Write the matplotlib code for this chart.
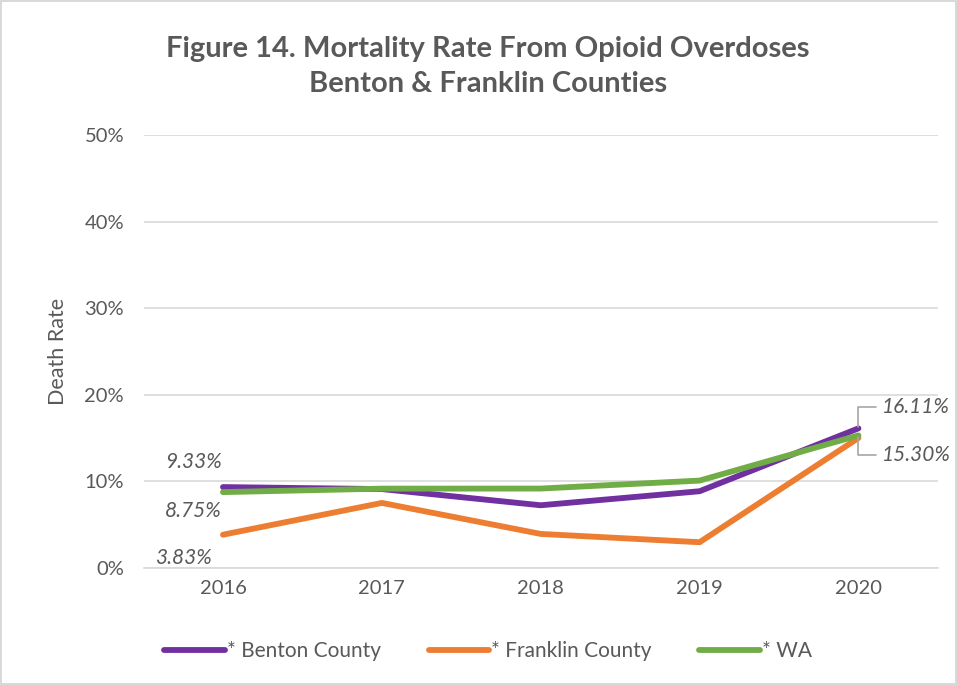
import matplotlib.pyplot as plt
from matplotlib.ticker import PercentFormatter

# Data
years = ['2016', '2017', '2018', '2019', '2020']
benton = [9.33, 9.1, 7.23, 8.85, 16.11]
franklin = [3.83, 7.5, 3.92, 2.96, 15.0]
wa = [8.75, 9.15, 9.16, 10.08, 15.30]
series_names = ['* Benton County', '* Franklin County', '* WA']
series_colors = ['#7030A0', '#ED7D31', '#70AD47']

gray = '#595959'
plt.rcParams['font.family'] = ['Lato', 'DejaVu Sans']

fig = plt.figure(figsize=(9.57, 6.85), dpi=100)
fig.patch.set_edgecolor('#D9D9D9')
fig.patch.set_linewidth(1.5)
ax = fig.add_axes([0.15, 0.171, 0.83, 0.632])

x = list(range(len(years)))
for vals, name, col in zip([benton, franklin, wa], series_names, series_colors):
    ax.plot(x, vals, color=col, lw=4.2, label=name, solid_capstyle='round')

ax.set_xlim(-0.5, len(years) - 0.5)
ax.set_ylim(0, 50)
ax.set_yticks(range(0, 51, 10))
ax.yaxis.set_major_formatter(PercentFormatter(decimals=0))
ax.set_xticks(x)
ax.set_xticklabels(years)
ax.grid(axis='y', color='#D9D9D9', lw=1.2)
ax.set_axisbelow(True)
for s in ['top', 'right', 'left']:
    ax.spines[s].set_visible(False)
ax.spines['bottom'].set_color('#D9D9D9')
ax.spines['bottom'].set_linewidth(1.2)
ax.tick_params(length=0, colors=gray, labelsize=14.5, pad=9)
ax.tick_params(axis='y', pad=14)
ax.set_ylabel('Death Rate', fontsize=15.5, color=gray, labelpad=12)

lab = dict(fontsize=15, style='italic', color=gray, textcoords='offset pixels')
ax.annotate(f'{benton[0]:.2f}%', (0, benton[0]), xytext=(-30, 25), ha='center', va='center', **lab)
ax.annotate(f'{wa[0]:.2f}%', (0, wa[0]), xytext=(-30, -19), ha='center', va='center', **lab)
ax.annotate(f'{franklin[0]:.2f}%', (0, franklin[0]), xytext=(-40, -23), ha='center', va='center', **lab)
lead = dict(arrowstyle='-', color='#A6A6A6', lw=1.2, shrinkA=2, shrinkB=1,
            connectionstyle='angle,angleA=0,angleB=90,rad=0')
ax.annotate(f'{benton[4]:.2f}%', (4, benton[4]), xytext=(23, 21), ha='left', va='center',
            arrowprops=lead, **lab)
ax.annotate(f'{wa[4]:.2f}%', (4, wa[4]), xytext=(23, -20), ha='left', va='center',
            arrowprops=lead, **lab)

leg = fig.legend(loc='center', bbox_to_anchor=(0.51, 0.049), ncol=3, frameon=False,
                 fontsize=15, handlelength=2.9, columnspacing=2.3, handletextpad=0.1)
for t in leg.get_texts():
    t.set_color(gray)

fig.text(0.51, 0.903, 'Figure 14. Mortality Rate From Opioid Overdoses\nBenton & Franklin Counties',
         ha='center', va='center', fontsize=21, fontweight='bold', color=gray, linespacing=1.4)

fig.savefig('out.png', dpi=100, edgecolor=fig.get_edgecolor())
